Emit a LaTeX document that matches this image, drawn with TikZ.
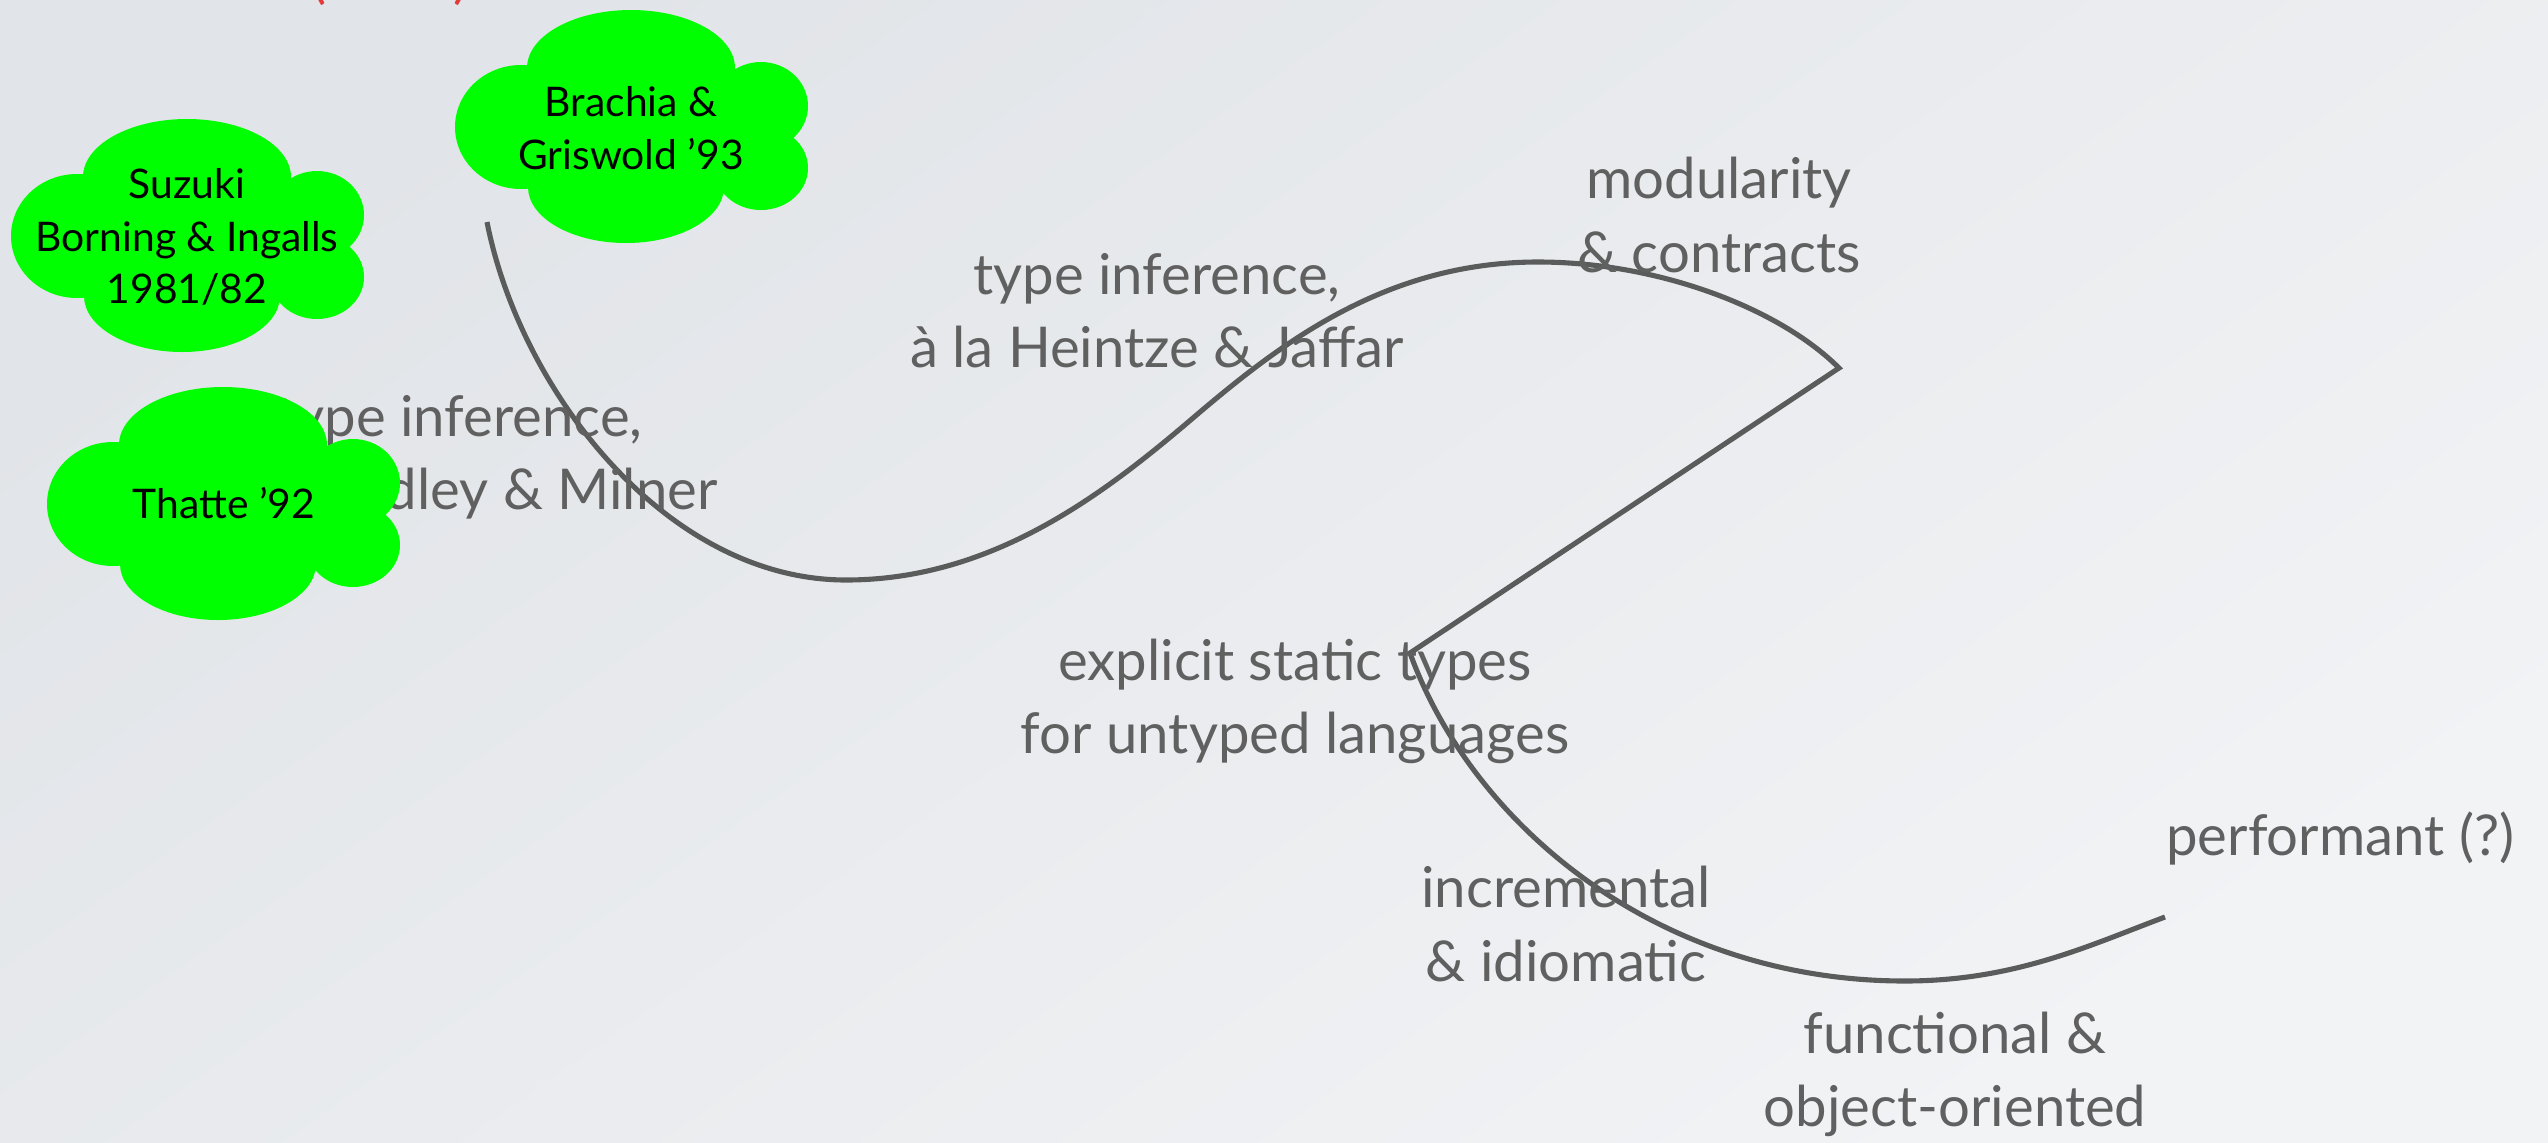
\documentclass[tikz,border=0pt]{standalone}
\usepackage{fontspec}
\setmainfont{Lato}
\begin{document}
\begin{tikzpicture}[x=0.01cm,y=-0.01cm]
  \definecolor{bgtop}{HTML}{E1E4E8}
  \definecolor{bgbottom}{HTML}{F2F3F5}
  \definecolor{labelgray}{HTML}{606060}
  \definecolor{trackgray}{HTML}{5A5C5C}
  \definecolor{cloudgreen}{HTML}{00FF00}
  \definecolor{notered}{HTML}{E63A3A}
  \tikzset{
    track/.style={draw=trackgray, line width=1.45pt},
    topic/.style={text=labelgray, font=\fontsize{16}{20.8}\selectfont, align=center, inner sep=0pt},
    citation/.style={text=black, font=\fontsize{11.6}{15}\selectfont, align=center, inner sep=0pt},
    greencloud/.pic={
      \fill[cloudgreen]
        (0,-59)   ellipse [x radius=104, y radius=58]
        (-5,60)   ellipse [x radius=98,  y radius=56]
        (-110,0)  ellipse [x radius=66,  y radius=62]
        (130,-21) ellipse [x radius=47,  y radius=44]
        (130,41)  ellipse [x radius=47,  y radius=42]
        (0,0)     ellipse [x radius=130, y radius=72];
    }
  }
  % page frame and background
  \useasboundingbox (0,0) rectangle (2548,1142);
  \clip (0,0) rectangle (2548,1142);
  \shade[top color=bgtop, bottom color=bgbottom, shading angle=35] (0,0) rectangle (2548,1142);

  % heading cut off at the top edge
  \node[text=notered, font=\fontsize{16}{20.8}\selectfont, anchor=base, inner sep=0pt]
    (heading) at (390,-3) {(\hspace{36pt})};

  % the timeline track
  \coordinate (start)   at (487,222);
  \coordinate (dip)     at (846,580);
  \coordinate (rise)    at (1200,412);
  \coordinate (crest)   at (1538,262);
  \coordinate (apex)    at (1839,368);
  \coordinate (kink)    at (1410,653);
  \coordinate (trough)  at (1905,981);
  \coordinate (finish)  at (2165,917);
  \draw[track] (start) .. controls (520,390) and (666,580) .. (dip)
    .. controls (996,580) and (1109,490) .. (rise)
    .. controls (1284,341) and (1388,262) .. (crest)
    .. controls (1658,262) and (1779,308) .. (apex)
    -- (kink)
    .. controls (1471,822) and (1655,981) .. (trough)
    .. controls (2015,981) and (2090,945) .. (finish);

  % topics along the track
  \node[topic] (hindley)  at (459,457)  {type inference,\\à la Hindley \& Milner};
  \node[topic] (heintze)  at (1157,311) {type inference,\\à la Heintze \& Jaffar};
  \node[topic] (modular)  at (1719,215) {modularity\\\& contracts};
  \node[topic] (explicit) at (1295,701) {explicit static types\\for untyped languages};
  \node[topic] (increm)   at (1566,924) {incremental\\\& idiomatic};
  \node[topic] (funcoo)   at (1955,1074) {functional \&\\object-oriented};
  \node[topic, anchor=east] (perf) at (2515,838) {performant (?)};

  % citations
  \pic at (631,127) {greencloud};
  \node[citation] (brachia) at (631,128) {Brachia \&\\Griswold ’93};
  \pic at (187,236) {greencloud};
  \node[citation] (suzuki) at (187,237) {Suzuki\\Borning \& Ingalls\\1981/82};
  \pic at (223,504) {greencloud};
  \node[citation] (thatte) at (224,503) {Thatte ’92};
\end{tikzpicture}
\end{document}
